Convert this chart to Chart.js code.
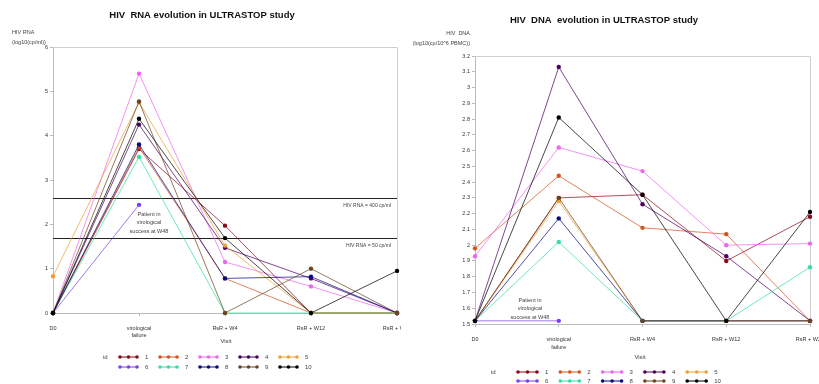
<!DOCTYPE html>
<html>
<head>
<meta charset="utf-8">
<script src="https://cdn.jsdelivr.net/npm/chart.js@4.4.1/dist/chart.umd.min.js"></script>
<style>
    html, body { margin: 0; padding: 0; background: #fff; }
    #wrap { position: relative; width: 819px; height: 384px; overflow: hidden; }
    canvas { position: absolute; top: 0; }
    #rnaChart { left: 0; }
    #dnaChart { left: 401px; }
</style>
</head>
<body>
<div id="wrap">
    <canvas id="rnaChart" width="401" height="384"></canvas>
    <canvas id="dnaChart" width="418" height="384"></canvas>
</div>
<script>
// --- data ---
const visits = ['D0', ['virological', 'failure'], 'RsR + W4', 'RsR + W12', 'RsR + W24'];
const ids = ['1', '2', '3', '4', '5', '6', '7', '8', '9', '10'];

// HIV RNA, log10(cp/ml)
const rna1  = [0,    3.70, 1.97, 0,    0];
const rna2  = [0,    3.74, 0.78, 0,    0];
const rna3  = [0,    5.40, 1.15, 0.60, 0];
const rna4  = [0,    4.25, 1.47, 0.78, 0];
const rna5  = [0.83, 4.75, 1.52, 0,    0];
const rna6  = [0,    2.44, null, null, null];
const rna7  = [0,    3.52, 0,    0,    0];
const rna8  = [0,    3.80, 0.78, 0.82, 0];
const rna9  = [0,    4.77, 0,    1.00, 0];
const rna10 = [0,    4.38, 1.69, 0,    0.95];
const rnaRefValues = [2.6, 1.7];
const rnaRefLabels = ['HIV RNA = 400 cp/ml', 'HIV RNA = 50 cp/ml'];

// HIV DNA, log10(cp/10^6 PBMC)
const dna1  = [1.52, 2.30, 2.32, 1.90, 2.18];
const dna2  = [1.98, 2.44, 2.11, 2.07, 1.52];
const dna3  = [1.93, 2.62, 2.47, 2.00, 2.01];
const dna4  = [1.52, 3.13, 2.26, 1.93, 1.52];
const dna5  = [1.52, 2.28, 1.52, 1.52, 1.52];
const dna6  = [1.52, 1.52, null, null, null];
const dna7  = [1.52, 2.02, 1.52, 1.52, 1.86];
const dna8  = [1.52, 2.17, 1.52, 1.52, 1.52];
const dna9  = [1.52, 2.30, 1.52, 1.52, 1.52];
const dna10 = [1.52, 2.81, 2.32, 1.52, 2.21];

const noteLines = ['Patient in', 'virological', 'success at W48'];

const idColors = ['#8b0a1a', '#d2541e', '#ee66ee', '#4b0060', '#f0a030',
                  '#7b3ff0', '#33e0a0', '#0a0a80', '#6b4423', '#000000'];

const FONT = '"Liberation Sans", Arial, sans-serif';
Chart.defaults.font.family = FONT;

// titles, frame, reference lines, note, "Visit" and the id legend
const decoPlugin = {
    id: 'deco',
    beforeDatasetsDraw(chart, args, o) {
        const { ctx, chartArea: a, scales: { y } } = chart;
        ctx.save();
        ctx.strokeStyle = '#cfcfcf';
        ctx.lineWidth = 1;
        ctx.beginPath();
        ctx.moveTo(a.left, a.top + 0.5);
        ctx.lineTo(a.right + 0.5, a.top + 0.5);
        ctx.lineTo(a.right + 0.5, a.bottom);
        ctx.stroke();
        (o.refValues || []).forEach((v, i) => {
            const py = Math.round(y.getPixelForValue(v)) + 0.5;
            ctx.strokeStyle = '#222';
            ctx.beginPath();
            ctx.moveTo(a.left, py);
            ctx.lineTo(a.right, py);
            ctx.stroke();
            ctx.fillStyle = '#444';
            ctx.font = `5px ${FONT}`;
            ctx.textAlign = 'right';
            ctx.textBaseline = 'middle';
            ctx.fillText(o.refLabels[i], a.right - 6, py + 7);
        });
        ctx.restore();
    },
    afterDraw(chart, args, o) {
        const { ctx } = chart;
        ctx.save();
        ctx.textBaseline = 'middle';

        ctx.fillStyle = '#111';
        ctx.font = `bold 9.5px ${FONT}`;
        ctx.textAlign = 'center';
        ctx.fillText(o.title, o.titleX, o.titleY);

        ctx.fillStyle = '#444';
        ctx.font = `5.5px ${FONT}`;
        ctx.textAlign = o.yTitleAlign;
        o.yTitle.forEach((t, i) => ctx.fillText(t, o.yTitleX, o.yTitleY[i]));

        ctx.textAlign = 'center';
        noteLines.forEach((t, i) => ctx.fillText(t, o.noteX, o.noteY[i]));

        ctx.font = `6px ${FONT}`;
        ctx.fillText('Visit', o.visitX, o.visitY);

        // legend: "id" then 2 rows of 5
        ctx.textAlign = 'left';
        ctx.fillText('id', o.legX, o.legY[0]);
        ids.forEach((id, i) => {
            const row = Math.floor(i / 5), col = i % 5;
            const x0 = o.legX0 + col * o.legStep;
            const yy = o.legY[row];
            const c = idColors[i];
            ctx.strokeStyle = c;
            ctx.lineWidth = 1;
            ctx.beginPath();
            ctx.moveTo(x0, yy);
            ctx.lineTo(x0 + o.legW, yy);
            ctx.stroke();
            ctx.fillStyle = c;
            [0, 0.5, 1].forEach(f => {
                ctx.beginPath();
                ctx.arc(x0 + f * o.legW, yy, 1.8, 0, Math.PI * 2);
                ctx.fill();
            });
            ctx.fillStyle = '#444';
            ctx.fillText(id, x0 + o.legW + o.legGap, yy);
        });
        ctx.restore();
    }
};

function makeDatasets(series) {
    return series.map((data, i) => ({
        label: ids[i],
        data,
        borderColor: idColors[i] + 'cc',
        backgroundColor: idColors[i],
        borderWidth: 0.9,
        pointRadius: 2.2,
        pointBorderWidth: 0,
        pointBackgroundColor: idColors[i],
        tension: 0,
        clip: false,
        order: 10 - i,
    }));
}

function makeChart(canvasId, series, yOpts, box, deco) {
    return new Chart(document.getElementById(canvasId), {
        type: 'line',
        data: { labels: visits, datasets: makeDatasets(series) },
        plugins: [decoPlugin],
        options: {
            responsive: false,
            animation: false,
            events: [],
            layout: { padding: { left: 0, top: box.top, right: box.right, bottom: 0 } },
            plugins: {
                legend: { display: false },
                tooltip: { enabled: false },
                deco,
            },
            scales: {
                x: {
                    offset: false,
                    grid: { drawOnChartArea: false, drawTicks: true, tickLength: 3, color: '#bbb' },
                    border: { color: '#bbb' },
                    ticks: {
                        autoSkip: false, maxRotation: 0, padding: 8, color: '#333',
                        font: { size: 5.5, lineHeight: box.lineH },
                    },
                    afterFit: s => { s.height = box.xH; s.paddingLeft = 0; s.paddingRight = 0; },
                },
                y: {
                    min: yOpts.min, max: yOpts.max,
                    grid: { drawOnChartArea: false, drawTicks: true, tickLength: 3, color: '#bbb' },
                    border: { color: '#bbb' },
                    ticks: {
                        stepSize: yOpts.step, padding: 2, color: '#333', font: { size: 5.5 },
                        callback: v => String(+v.toFixed(1)),
                    },
                    afterFit: s => { s.width = box.yW; s.paddingTop = 0; s.paddingBottom = 0; },
                },
            },
        },
    });
}

makeChart('rnaChart',
    [rna1, rna2, rna3, rna4, rna5, rna6, rna7, rna8, rna9, rna10],
    { min: 0, max: 6, step: 1 },
    { top: 47, right: 3, xH: 71, yW: 53, lineH: 1.45 },
    {
        title: 'HIV  RNA evolution in ULTRASTOP study', titleX: 202, titleY: 15,
        yTitle: ['HIV RNA', '(log10(cp/ml))'], yTitleX: 12, yTitleY: [32, 42], yTitleAlign: 'left',
        refValues: rnaRefValues, refLabels: rnaRefLabels,
        noteX: 149, noteY: [214, 222, 231],
        visitX: 226, visitY: 341,
        legX: 103, legY: [357, 367], legX0: 120, legStep: 40, legW: 17, legGap: 8,
    });

makeChart('dnaChart',
    [dna1, dna2, dna3, dna4, dna5, dna6, dna7, dna8, dna9, dna10],
    { min: 1.5, max: 3.2, step: 0.1 },
    { top: 56, right: 9, xH: 60, yW: 74, lineH: 1.5 },
    {
        title: 'HIV  DNA  evolution in ULTRASTOP study', titleX: 203, titleY: 20,
        yTitle: ['HIV  DNA', '(log10(cp/10^6 PBMC))'], yTitleX: 69, yTitleY: [33, 43], yTitleAlign: 'right',
        noteX: 129, noteY: [300, 308, 317],
        visitX: 239, visitY: 357,
        legX: 90, legY: [372, 381], legX0: 117, legStep: 42.3, legW: 19, legGap: 8,
    });
</script>
</body>
</html>
